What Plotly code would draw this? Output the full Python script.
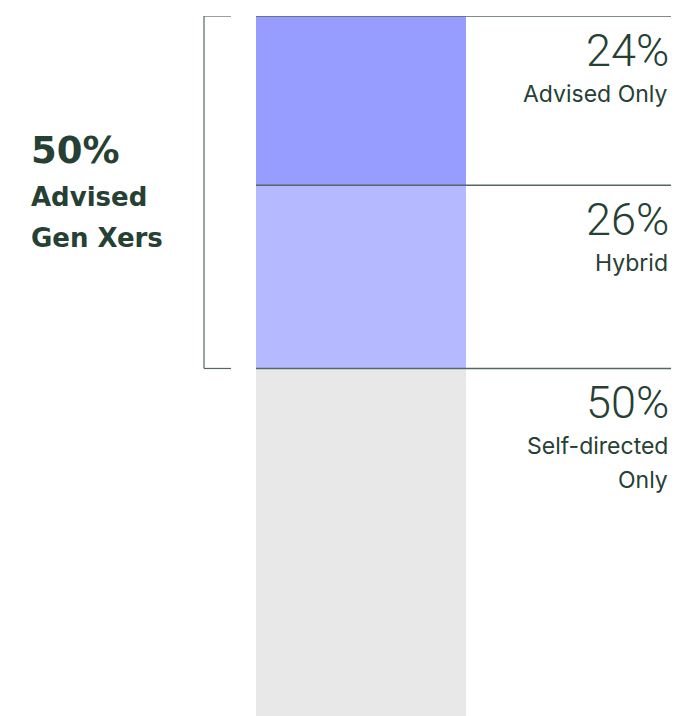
import plotly.graph_objects as go

# Data
segments = ["Advised Only", "Hybrid", "Self-directed<br>Only"]
values = [24, 26, 50]
colors = ["#979DFF", "#B5B9FF", "#E8E8E8"]
category = ["Gen X"]
advised_total_label = "50%"
advised_group_lines = ["Advised", "Gen Xers"]

TEXT = "#264034"
LINE = "#55675E"

fig = go.Figure()
for name, v, c in zip(segments, values, colors):
    fig.add_trace(go.Bar(x=category, y=[v], name=name, marker=dict(color=c, line=dict(width=0)),
                         width=0.6, hoverinfo="skip"))

starts = []
acc = 0
for v in values:
    starts.append(acc)
    acc += v
advised_total = values[0] + values[1]

shapes = []
for s in starts:
    shapes.append(dict(type="line", xref="paper", yref="y", x0=256/678, x1=671/678, y0=s, y1=s,
                       line=dict(color=LINE, width=1.5), layer="above"))
# bracket
bx0, bx1 = 204/678, 231/678
shapes.append(dict(type="line", xref="paper", yref="y", x0=bx0, x1=bx0, y0=0, y1=advised_total,
                   line=dict(color=LINE, width=1.2)))
shapes.append(dict(type="line", xref="paper", yref="y", x0=bx0, x1=bx1, y0=0, y1=0,
                   line=dict(color=LINE, width=1.2)))
shapes.append(dict(type="line", xref="paper", yref="y", x0=bx0, x1=bx1, y0=advised_total, y1=advised_total,
                   line=dict(color=LINE, width=1.2)))

annotations = []
for name, v, s in zip(segments, values, starts):
    annotations.append(dict(xref="paper", yref="y", x=670/678, y=s, xanchor="right", yanchor="middle",
                            yshift=-34, text=f"{v}%", showarrow=False, borderpad=0,
                            font=dict(family="Roboto", size=45, color=TEXT, weight=300)))
    lines = name.split("<br>")
    for i, ln in enumerate(lines):
        annotations.append(dict(xref="paper", yref="y", x=669/678, y=s, xanchor="right", yanchor="middle",
                                yshift=-78 - 34*i, text=ln, showarrow=False, borderpad=0,
                                font=dict(family="Inter", size=23, color=TEXT)))

annotations.append(dict(xref="paper", yref="y", x=30/678, y=advised_total/2, xanchor="left", yanchor="middle",
                        yshift=42, text=f"<b>{advised_total_label}</b>", showarrow=False, borderpad=0,
                        font=dict(family="DejaVu Sans", size=37, color=TEXT)))
for i, ln in enumerate(advised_group_lines):
    annotations.append(dict(xref="paper", yref="y", x=30/678, y=advised_total/2, xanchor="left", yanchor="middle",
                            yshift=-5 - 41*i, text=f"<b>{ln}</b>", showarrow=False, borderpad=0,
                            font=dict(family="DejaVu Sans", size=26, color=TEXT)))

fig.update_layout(
    barmode="stack", width=678, height=716, margin=dict(l=0, r=0, t=16, b=0),
    paper_bgcolor="white", plot_bgcolor="white", showlegend=False,
    xaxis=dict(range=[-1.031, 0.906], visible=False, fixedrange=True),
    yaxis=dict(range=[99.3, 0], visible=False, fixedrange=True),
    shapes=shapes, annotations=annotations,
)
fig.write_html("out.html", config={"displayModeBar": False},
               post_script="document.body.style.margin='0';document.body.style.overflow='hidden';")
